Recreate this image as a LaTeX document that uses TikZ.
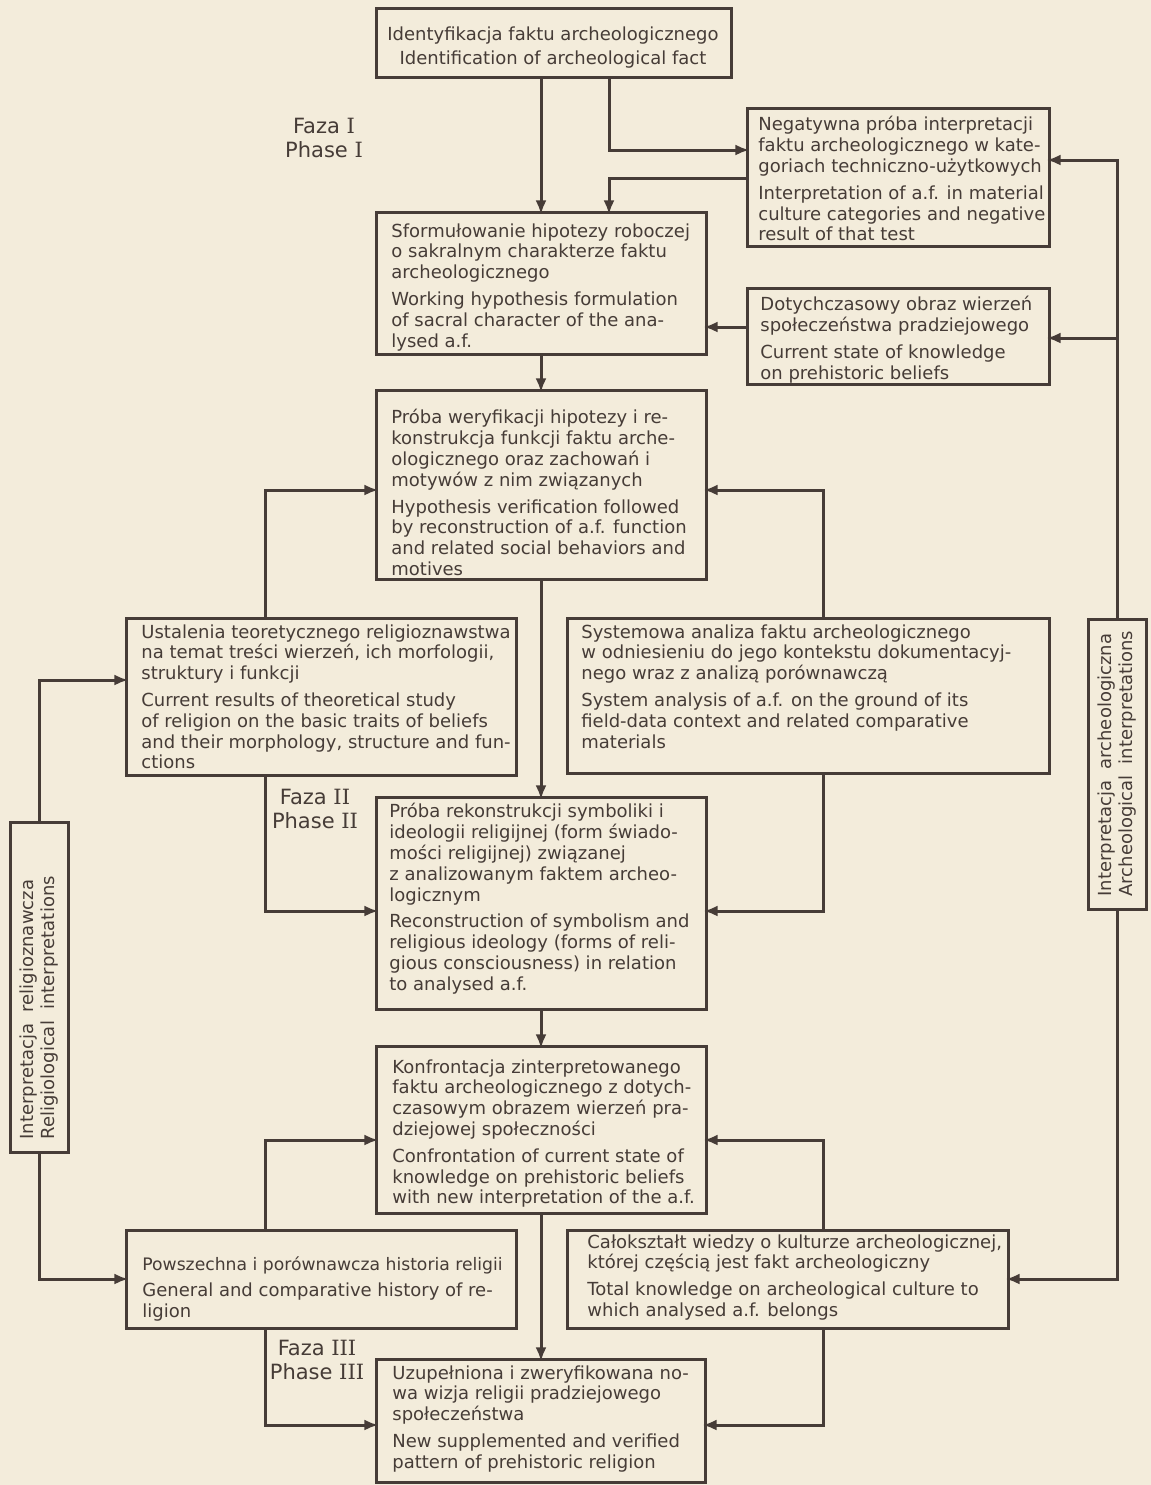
\documentclass[tikz,border=0pt]{standalone}
\usepackage{fontspec}
\setmainfont{DejaVu Sans}
\newfontfamily\numf{DejaVu Serif}
\usetikzlibrary{fit,arrows.meta}
\definecolor{paper}{HTML}{F3ECDB}
\definecolor{ink}{HTML}{463C37}
\tikzset{
  boxst/.style={draw=ink, line width=1.5pt, inner sep=0pt, outer sep=0pt},
  txt/.style={anchor=north west, inner sep=0pt, align=left, text=ink, font=\fontsize{9}{10.4}\selectfont},
  vtxt/.style={rotate=90, anchor=west, inner sep=0pt, align=left, text=ink, font=\fontsize{9}{10.6}\selectfont},
  arr/.style={draw=ink, line width=1.5pt, shorten >=-1.2pt, -{Latex[length=7pt,width=5.5pt]}},
  phase/.style={inner sep=0pt, align=center, text=ink, font=\fontsize{10.5}{11.8}\selectfont}
}
\begin{document}
\begin{tikzpicture}[x=0.5pt,y=-0.5pt]
\fill[paper] (0,0) rectangle (1151,1485);
\useasboundingbox (0,0) rectangle (1151,1485);

% boxes
\node[boxst, fit={(376,8)(731,77)}] (A) {};
\node[boxst, fit={(747,108)(1049,246)}] (B) {};
\node[boxst, fit={(376,212)(706,354)}] (C) {};
\node[boxst, fit={(747,288)(1049,384)}] (D) {};
\node[boxst, fit={(376,390)(706,579)}] (E) {};
\node[boxst, fit={(126,618)(516,775)}] (F) {};
\node[boxst, fit={(567,618)(1049,773)}] (G) {};
\node[boxst, fit={(376,797)(706,1009)}] (H) {};
\node[boxst, fit={(376,1046)(706,1213)}] (I) {};
\node[boxst, fit={(126,1230)(516,1328)}] (J) {};
\node[boxst, fit={(567,1230)(1008,1328)}] (K) {};
\node[boxst, fit={(376,1359)(705,1482)}] (L) {};
\node[boxst, fit={(10,822)(68,1152)}] (R) {};
\node[boxst, fit={(1088,619)(1146,909)}] (Q) {};

% texts
\node[txt, anchor=north, align=center] (tA) at (553,26) {Identyfikacja faktu archeologicznego\\[2pt]Identification of archeological fact};
\node[txt] (tB) at (758,116) {Negatywna próba interpretacji\\faktu archeologicznego w kate-\\goriach techniczno-użytkowych\\[3pt]Interpretation of a.f. in material\\culture categories and negative\\result of that test};
\node[txt] (tC) at (391,223) {Sformułowanie hipotezy roboczej\\o sakralnym charakterze faktu\\archeologicznego\\[3pt]Working hypothesis formulation\\of sacral character of the ana-\\lysed a.f.};
\node[txt] (tD) at (760,296) {Dotychczasowy obraz wierzeń\\społeczeństwa pradziejowego\\[3pt]Current state of knowledge\\on prehistoric beliefs};
\node[txt] (tE) at (391,409) {Próba weryfikacji hipotezy i re-\\konstrukcja funkcji faktu arche-\\ologicznego oraz zachowań i\\motywów z nim związanych\\[3pt]Hypothesis verification followed\\by reconstruction of a.f. function\\and related social behaviors and\\motives};
\node[txt] (tF) at (141,624) {Ustalenia teoretycznego religioznawstwa\\na temat treści wierzeń, ich morfologii,\\struktury i funkcji\\[3pt]Current results of theoretical study\\of religion on the basic traits of beliefs\\and their morphology, structure and fun-\\ctions};
\node[txt] (tG) at (581,624) {Systemowa analiza faktu archeologicznego\\w odniesieniu do jego kontekstu dokumentacyj-\\nego wraz z analizą porównawczą\\[3pt]System analysis of a.f. on the ground of its\\field-data context and related comparative\\materials};
\node[txt] (tH) at (389,803) {Próba rekonstrukcji symboliki i\\ideologii religijnej (form świado-\\mości religijnej) związanej\\z analizowanym faktem archeo-\\logicznym\\[3pt]Reconstruction of symbolism and\\religious ideology (forms of reli-\\gious consciousness) in relation\\to analysed a.f.};
\node[txt] (tI) at (392,1059) {Konfrontacja zinterpretowanego\\faktu archeologicznego z dotych-\\czasowym obrazem wierzeń pra-\\dziejowej społeczności\\[3pt]Confrontation of current state of\\knowledge on prehistoric beliefs\\with new interpretation of the a.f.};
\node[txt] (tJ) at (142,1256) {{\fontsize{8.6}{10.4}\selectfont Powszechna i porównawcza historia religii}\\[3pt]General and comparative history of re-\\ligion};
\node[txt] (tK) at (587,1234) {Całokształt wiedzy o kulturze archeologicznej,\\której częścią jest fakt archeologiczny\\[3pt]Total knowledge on archeological culture to\\which analysed a.f. belongs};
\node[txt] (tL) at (392,1365) {Uzupełniona i zweryfikowana no-\\wa wizja religii pradziejowego\\społeczeństwa\\[3pt]New supplemented and verified\\pattern of prehistoric religion};
\node[vtxt] (tR) at (39,1140) {Interpretacja\ \ religioznawcza\\Religiological\ \ interpretations};
\node[vtxt] (tQ) at (1117,897) {Interpretacja\ \ archeologiczna\\Archeological\ \ interpretations};

% phase labels
\node[phase] (ph1) at (324,138) {Faza {\numf I}\\Phase {\numf I}};
\node[phase] (ph2) at (315,809) {Faza {\numf II}\\Phase {\numf II}};
\node[phase] (ph3) at (317,1360) {Faza {\numf III}\\Phase {\numf III}};

% helper coordinates
\coordinate (p1) at (609,150);
\coordinate (p2) at (609,178);
\coordinate (p3) at (0,327);
\coordinate (p4) at (0,160);
\coordinate (p5) at (0,338);
\coordinate (p6) at (265,490);
\coordinate (p7) at (823,490);
\coordinate (p8) at (265,911);
\coordinate (p9) at (823,911);
\coordinate (p10) at (0,680);
\coordinate (p11) at (265,1140);
\coordinate (p12) at (823,1140);
\coordinate (p13) at (265,1425);
\coordinate (p14) at (823,1425);

% connectors
\draw[arr] (A.south -| C.north) -- (C.north);
\draw[arr] (A.south -| p1) |- (B.west |- p1);
\draw[arr] (B.west |- p2) -| (C.north -| p2);
\draw[arr] (D.west |- p3) -- (C.east |- p3);
\draw[arr] (Q.north) |- (B.east |- p4);
\draw[arr] (Q.north |- p5) -- (D.east |- p5);
\draw[arr] (C.south) -- (E.north);
\draw[arr] (F.north -| p6) |- (E.west |- p6);
\draw[arr] (G.north -| p7) |- (E.east |- p7);
\draw[arr] (E.south) -- (H.north);
\draw[arr] (F.south -| p8) |- (H.west |- p8);
\draw[arr] (G.south -| p9) |- (H.east |- p9);
\draw[arr] (R.north) |- (F.west |- p10);
\draw[arr] (H.south) -- (I.north);
\draw[arr] (J.north -| p11) |- (I.west |- p11);
\draw[arr] (K.north -| p12) |- (I.east |- p12);
\draw[arr] (I.south) -- (L.north -| I.south);
\draw[arr] (J.south -| p13) |- (L.west |- p13);
\draw[arr] (K.south -| p14) |- (L.east |- p14);
\draw[arr] (R.south) |- (J.west);
\draw[arr] (Q.south) |- (K.east);
\end{tikzpicture}
\end{document}
